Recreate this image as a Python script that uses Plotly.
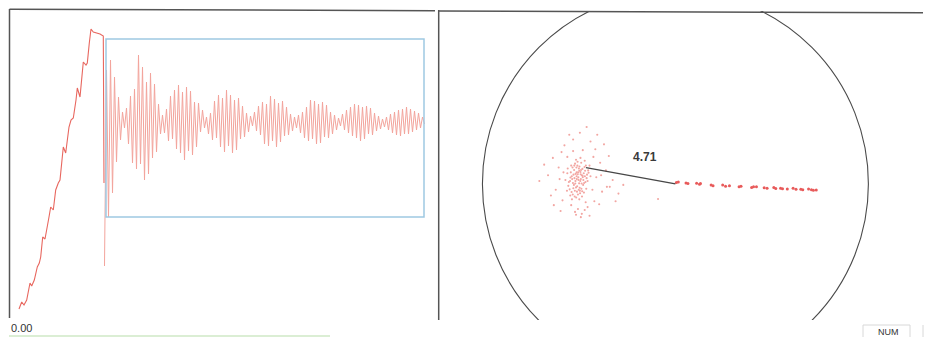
import plotly.graph_objects as go

W, H = 927, 337

# ---------------- left panel: recorded signal ----------------
# rising (loading) part of the trace: time [ms], amplitude
ramp_t = [10, 12.7, 15, 17.7, 21, 22.7, 25.3, 28.3, 30.3, 31.7, 33.7, 36, 40, 41.7,
          44.3, 46.7, 49.3, 51, 53.3, 54.3, 56.7, 60, 62, 64.3, 67, 68.3, 71, 73.3,
          74.3, 77, 78.3, 80.3, 82, 84.3, 87.7, 91, 94.3, 95]
ramp_amp = [-187, -180, -183, -178, -161, -164, -158, -145, -141, -135, -115, -117,
            -95, -85, -88, -68, -61, -58, -35, -25, -31, -5, 2, 4, 22, 34, 25, 45,
            60, 57, 59, 79, 93, 90, 89, 88, 86, -61]

# ringing after release, sampled every 2 ms starting at 95.5 ms
ring_t0 = 95.5
ring_dt = 2.0
ring_amp = [
    -144, 52, -95, 62, -71, 45, -40, 25, -18, 10,
    -6, 14, -22, 26, -41, 33, -47, 67, -42, 55, -58, 40, -52, 49, -36, 38, -30, 18, -12,
    7, -11, 13, -19, 26, -17, 32, -27, 37, -31, 30, -38, 35, -29, 31, -33, 20, -25, 19, -10, 12, -6,
    5, -12, 9, -18, 21, -16, 27, -25, 24, -30, 32, -24, 27, -31, 22, -28, 24, -17, 16, -15, 9, -10, 6,
    -4, 10, -9, 16, -13, 20, -22, 18, -24, 26, -19, 23, -25, 19, -20, 21, -14, 15, -13, 8, -9, 5,
    -6, 7, -11, 10, -16, 15, -19, 22, -17, 21, -22, 18, -21, 20, -15, 17, -16, 10, -12, 7, -8, 4,
    -4, 8, -8, 12, -11, 15, -14, 18, -16, 17, -19, 15, -17, 16, -12, 14, -13, 9, -9, 6, -7, 3,
    -5, 5, -8, 8, -11, 10, -13, 12, -14, 13, -12, 15, -12, 13, -10, 11, -8, 9, -6, 5, -2,
]

# analysis window on the ringing part
win_t = [97, 415]
win_amp = [-95, 83]

# ---------------- right panel: polar scatter ----------------
circle_r = 10.0
vector_len = 4.71
vector_end = [-4.634, 0.842]

cluster_x = [-5.02, -4.85, -5.31, -4.71, -5.15, -4.92, -5.44, -4.60, -5.08, -4.78, -5.25, -4.95,
             -5.55, -4.52, -5.12, -4.88, -5.38, -4.66, -5.20, -4.99, -5.60, -4.75, -5.05, -4.45,
             -5.33, -4.90, -5.48, -4.82, -5.18, -4.58, -5.70, -4.96, -5.28, -4.70, -5.10, -4.62,
             -5.40, -4.86, -5.00, -5.52, -4.55, -5.22, -4.80, -5.35, -4.68, -5.12, -5.45, -4.92,
             -5.62, -4.50, -5.26, -4.74, -5.06, -4.98, -5.36, -4.84, -5.15, -4.40, -5.58, -4.64,
             -5.03, -4.93, -5.17, -4.81, -5.09, -4.98, -5.23, -4.87, -5.13, -5.29, -4.77, -5.01,
             -5.19, -4.91, -5.42, -4.69, -5.07, -5.32, -4.83, -5.24, -4.97, -5.11, -4.89, -5.46,
             -4.73, -5.21, -5.04, -4.94, -5.14, -5.37,
             -7.05, -6.60, -6.20, -6.35, -5.90, -5.75, -5.30, -4.95, -4.60, -4.40, -4.15, -3.90,
             -3.60, -3.25, -2.95, -3.80, -4.20, -4.55, -4.85, -5.20, -5.05, -5.40, -5.85, -6.05,
             -6.45, -3.45, -3.70, -4.05, -5.60, -6.00, -4.30, -4.10, -3.95, -4.70, -4.45, -5.15,
             -4.90, -5.50, -6.80, -2.70, -3.10, -5.95, -3.55, -4.25, -5.80, -6.30, -4.80, -5.30,
             -3.85, -4.65, -0.90, -3.40]
cluster_y = [0.21, 0.45, 0.05, 0.88, -0.18, 0.62, 0.33, 0.30, 0.95, -0.05, 0.72, -0.35,
             -0.10, 0.70, 0.40, 1.10, -0.42, 0.10, 1.05, 0.03, 0.55, 0.55, -0.55, 0.95,
             0.85, 0.25, -0.28, 0.78, 0.15, 0.48, 0.20, -0.20, 0.48, 1.20, -0.40, -0.25,
             0.95, 0.02, 0.80, 0.10, 0.15, -0.65, 0.35, 0.25, 0.68, 0.60, -0.60, 1.35,
             -0.35, 0.58, -0.05, -0.45, 0.50, -0.80, -0.80, -0.65, 1.25, 0.40, 0.80, 0.95,
             0.35, 0.15, 0.52, 0.42, -0.12, 0.68, 0.30, -0.25, 0.85, -0.22, 0.20, -0.30,
             0.02, 0.50, 0.60, 0.40, 1.15, -0.55, -0.38, 0.95, 0.90, 0.25, 0.72, 0.15,
             0.05, -0.35, 0.60, -0.48, -0.70, 0.40,
             0.15, 0.45, -0.30, 1.35, 1.65, 2.00, 2.30, 2.65, 2.95, 2.20, 1.80, 1.10,
             0.70, 0.20, -0.50, -0.40, -0.90, -1.20, -1.55, -1.45, -1.30, -1.10, -0.85, 0.85,
             -0.60, 1.45, 2.05, 2.55, 1.40, 0.25, -0.30, 0.35, -1.05, -1.35, -1.65, -1.60,
             -1.72, 2.55, 1.00, -0.05, -0.90, -1.40, -0.15, 1.40, 0.60, -1.10, 1.75, 1.70,
             0.45, -0.95, -0.78, -0.15]

row_x = [0.05, 0.15, 0.55, 0.65, 1.10, 1.25, 1.30, 1.85, 1.95, 2.45, 2.60, 2.80, 3.30, 3.40,
         3.95, 4.05, 4.20, 4.60, 4.75, 5.10, 5.20, 5.45, 5.55, 5.80, 6.10, 6.25, 6.50, 6.60,
         6.90, 7.05, 7.15, 7.30]
row_y = [0.08, 0.10, 0.05, 0.02, 0.03, -0.02, 0.02, -0.05, -0.10, -0.06, -0.12, -0.10, -0.15,
         -0.12, -0.18, -0.15, -0.14, -0.20, -0.22, -0.18, -0.24, -0.22, -0.25, -0.26, -0.22,
         -0.28, -0.27, -0.30, -0.26, -0.30, -0.33, -0.32]


def px(x, y):
    """pixel position -> paper coordinates"""
    return x / W, 1 - y / H


fig = go.Figure()

fig.add_trace(go.Scatter(x=ramp_t, y=ramp_amp, mode="lines",
                         line=dict(color="#e8675f", width=1.1),
                         xaxis="x", yaxis="y", hoverinfo="skip", showlegend=False))
fig.add_trace(go.Scatter(x0=ring_t0, dx=ring_dt, y=ring_amp, mode="lines",
                         line=dict(color="#f3a49c", width=1.0),
                         xaxis="x", yaxis="y", hoverinfo="skip", showlegend=False))

fig.add_trace(go.Scatter(x=cluster_x, y=cluster_y, mode="markers",
                         marker=dict(color="#f2a6a2", size=2.1, line=dict(width=0)),
                         xaxis="x2", yaxis="y2", hoverinfo="skip", showlegend=False))
fig.add_trace(go.Scatter(x=row_x, y=row_y, mode="markers",
                         marker=dict(color="#e85a5a", size=3.0, line=dict(width=0)),
                         xaxis="x2", yaxis="y2", hoverinfo="skip", showlegend=False))
fig.add_trace(go.Scatter(x=[0, vector_end[0]], y=[0, vector_end[1]], mode="lines",
                         line=dict(color="#474747", width=1.4),
                         xaxis="x2", yaxis="y2", hoverinfo="skip", showlegend=False))

shapes = []
# analysis window
shapes.append(dict(type="rect", xref="x", yref="y", x0=win_t[0], x1=win_t[1],
                   y0=win_amp[0], y1=win_amp[1], line=dict(color="#9ec9e2", width=1.5)))
# reference circle (clipped by the plot area)
shapes.append(dict(type="circle", xref="x2", yref="y2", x0=-circle_r, x1=circle_r,
                   y0=-circle_r, y1=circle_r, line=dict(color="#4a4a4a", width=1.1)))


def seg(x0, y0, x1, y1, color="#555555", width=1.5):
    a, b = px(x0, y0)
    c, d = px(x1, y1)
    shapes.append(dict(type="line", xref="paper", yref="paper", x0=a, y0=b, x1=c, y1=d,
                       line=dict(color=color, width=width)))


# panel frames
seg(9.5, 9, 9.5, 318)
seg(9.5, 9.2, 435, 10.7)
seg(438.7, 10, 438.7, 320)
seg(439, 11, 923, 12.7)
# status bar
seg(9, 336, 330, 336, color="#cfe8c6", width=1.5)
seg(863, 325, 910, 325, color="#d8d8d8", width=1)
seg(863, 325, 863, 337, color="#d8d8d8", width=1)
seg(910, 325, 910, 337, color="#d8d8d8", width=1)
seg(923, 325, 923, 337, color="#d8d8d8", width=1)

annotations = [
    dict(xref="x2", yref="y2", x=-1.58, y=1.40, text="<b>%.2f</b>" % vector_len,
         showarrow=False, font=dict(family="Liberation Sans, Arial", size=12, color="#3a3a3a")),
    dict(xref="paper", yref="paper", x=px(9, 0)[0], y=px(0, 328)[1], text="0.00",
         xanchor="left", yanchor="middle", showarrow=False,
         font=dict(family="Liberation Sans, Arial", size=11, color="#333333")),
    dict(xref="paper", yref="paper", x=px(888, 0)[0], y=px(0, 332)[1], text="NUM",
         xanchor="center", yanchor="middle", showarrow=False,
         font=dict(family="Liberation Sans, Arial", size=9, color="#333333")),
]

hidden = dict(showgrid=False, zeroline=False, showticklabels=False, showline=False,
              ticks="", fixedrange=True)

fig.update_layout(
    width=W, height=H,
    margin=dict(l=0, r=0, t=0, b=0),
    paper_bgcolor="white", plot_bgcolor="white",
    xaxis=dict(domain=[9 / W, 438 / W], range=[0, 429], **hidden),
    yaxis=dict(domain=[1 - 320 / H, 1 - 9 / H], range=[-198, 113], **hidden),
    xaxis2=dict(domain=[439 / W, 923 / W], range=[-12.25, 12.83], anchor="y2", **hidden),
    yaxis2=dict(domain=[1 - 320 / H, 1 - 11 / H], range=[-7.05, 8.96], anchor="x2", **hidden),
    shapes=shapes,
    annotations=annotations,
)

fig.write_html("out.html", config={"displayModeBar": False})
